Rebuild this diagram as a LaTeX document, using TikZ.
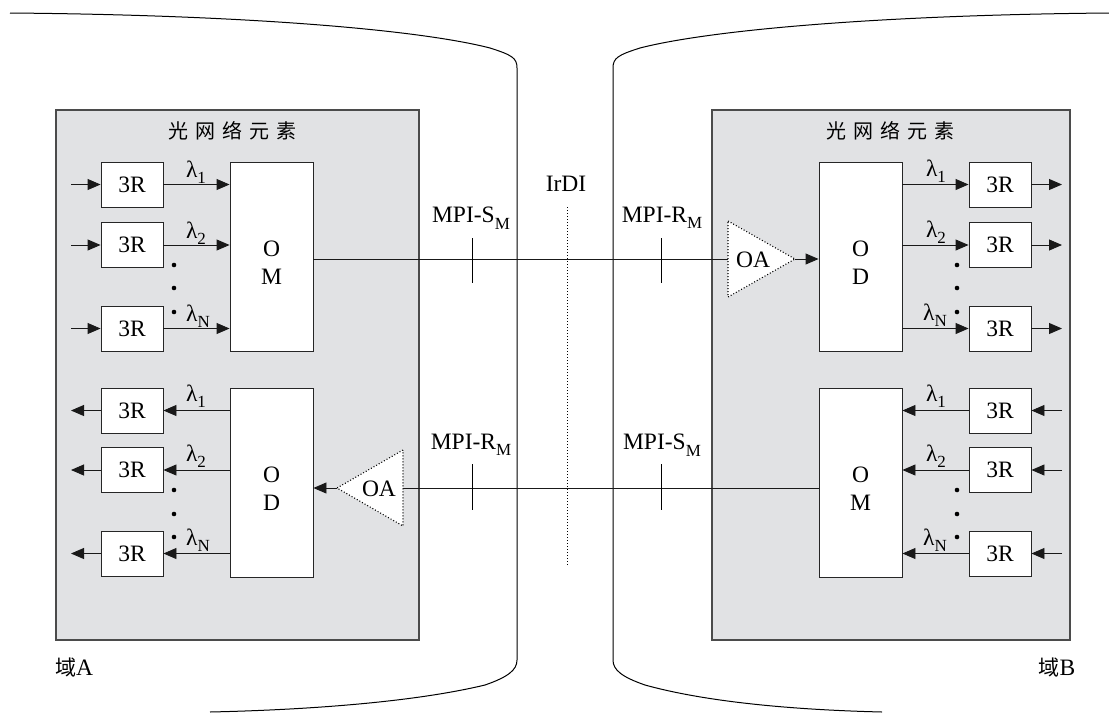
\documentclass[tikz,border=0pt]{standalone}
\usepackage{fontspec}
\setmainfont{Liberation Serif}
\newfontfamily\cjk{Noto Sans CJK SC}
\usetikzlibrary{arrows.meta}
\definecolor{negray}{RGB}{225,226,228}
\definecolor{nedge}{RGB}{75,75,75}
\newcommand\sbs[1]{\raisebox{-0.6ex}{\fontsize{17}{17}\selectfont #1}}
\newcommand\netitle{{\cjk\fontsize{20}{22}\selectfont 光\hspace{7pt}网\hspace{7pt}络\hspace{7pt}元\hspace{7pt}素}}
\begin{document}
\begin{tikzpicture}[x=1pt,y=-1pt,
  every node/.style={font=\fontsize{23.5}{28}\selectfont, inner sep=0pt},
  line/.style={line width=0.9pt, draw=black!90},
  arr/.style={line, -{Triangle[length=13pt,width=11pt]}},
  rbox/.style={draw=black!85, line width=0.9pt, fill=white, minimum width=62pt, minimum height=45pt},
  mbox/.style={draw=black!85, line width=0.9pt, fill=white, minimum width=83pt, minimum height=189pt},
  nebox/.style={draw=nedge, line width=1.2pt, fill=negray, minimum height=530pt},
  oa/.style={draw=black, line width=1.1pt, dash pattern=on 1pt off 2pt, fill=white},
  tick/.style={line width=0.9pt},
  dotline/.style={line width=0.9pt, dash pattern=on 1pt off 2pt}
]
\useasboundingbox (0,0) rectangle (1109,713);

% domain outlines
\draw[line width=1pt] (10,13) .. controls (250,15) and (420,30) .. (490,48)
  .. controls (512,55) and (517,58) .. (517,68) -- (517,660)
  .. controls (517,670) and (508,677) .. (485,685)
  .. controls (410,703) and (300,710) .. (210,712);
\draw[line width=1pt] (1109,13) .. controls (880,15) and (710,30) .. (640,48)
  .. controls (618,55) and (613,58) .. (613,68) -- (613,660)
  .. controls (613,670) and (622,677) .. (645,685)
  .. controls (710,703) and (800,710) .. (882,712);
\node (domA) at (74,668) {{\cjk\fontsize{21}{22}\selectfont 域}A};
\node (domB) at (1057,668) {{\cjk\fontsize{21}{22}\selectfont 域}B};

% network element boxes
\node[nebox, minimum width=363pt] (neL) at (237.5,375) {};
\node[nebox, minimum width=358pt] (neR) at (891,375) {};
\node (tL) at (232,131) {\netitle};
\node (tR) at (890,131) {\netitle};

% ---------- left upper (OM) ----------
\node[mbox] (omL) at (271.5,256.5) {};
\node[align=center] (omLt) at (271.5,263) {O\\M};
\foreach \i/\y in {1/184.5,2/245,3/328.5}{
  \node[rbox] (lu\i) at (132,\y) {3R};
  \coordinate (lui\i) at (71,\y);
  \draw[arr] (lui\i) -- (lu\i.west);
  \draw[arr] (lu\i.east) -- (lu\i.east -| omL.west);
}
\node (llu1) at (196,172) {λ\sbs{1}};
\node (llu2) at (196,233) {λ\sbs{2}};
\node (llu3) at (198,316) {λ\sbs{N}};
\foreach \y in {265,288,312}{\fill (174,\y) circle (2.3pt);}

% ---------- left lower (OD) ----------
\node[mbox] (odL) at (271.5,482.5) {};
\node[align=center] (odLt) at (271.5,489) {O\\D};
\foreach \i/\y in {1/410.5,2/470,3/553.5}{
  \node[rbox] (ll\i) at (132,\y) {3R};
  \coordinate (llo\i) at (71,\y);
  \draw[arr] (ll\i.west) -- (llo\i);
  \draw[arr] (ll\i.east -| odL.west) -- (ll\i.east);
}
\node (lll1) at (196,396) {λ\sbs{1}};
\node (lll2) at (196,456) {λ\sbs{2}};
\node (lll3) at (198,540) {λ\sbs{N}};
\foreach \y in {490,514,537}{\fill (174,\y) circle (2.3pt);}

% ---------- right upper (OD) ----------
\node[mbox] (odR) at (860.5,257) {};
\node[align=center] (odRt) at (860.5,263) {O\\D};
\foreach \i/\y in {1/184.5,2/245,3/328.5}{
  \node[rbox] (ru\i) at (1000,\y) {3R};
  \coordinate (ruo\i) at (1062,\y);
  \draw[arr] (ru\i.east) -- (ruo\i);
  \draw[arr] (ru\i.west -| odR.east) -- (ru\i.west);
}
\node (lru1) at (936,171) {λ\sbs{1}};
\node (lru2) at (936,232) {λ\sbs{2}};
\node (lru3) at (935,315) {λ\sbs{N}};
\foreach \y in {265,288,312}{\fill (957,\y) circle (2.3pt);}

% ---------- right lower (OM) ----------
\node[mbox] (omR) at (860.5,482.5) {};
\node[align=center] (omRt) at (860.5,489) {O\\M};
\foreach \i/\y in {1/410.5,2/470,3/553.5}{
  \node[rbox] (rl\i) at (1000,\y) {3R};
  \coordinate (rli\i) at (1062,\y);
  \draw[arr] (rli\i) -- (rl\i.east);
  \draw[arr] (rl\i.west) -- (rl\i.west -| omR.east);
}
\node (lrl1) at (936,396) {λ\sbs{1}};
\node (lrl2) at (936,456) {λ\sbs{2}};
\node (lrl3) at (935,540) {λ\sbs{N}};
\foreach \y in {490,514,537}{\fill (957,\y) circle (2.3pt);}

% ---------- optical amplifiers ----------
\coordinate (oaRu) at (728,221);
\coordinate (oaRd) at (728,297);
\coordinate (oaRa) at (795,259);
\coordinate (oaRm) at (728,259);
\draw[oa] (oaRu) -- (oaRa) -- (oaRd) -- cycle;
\node (oaRt) at (753,260) {OA};
\coordinate (oaLu) at (403,450);
\coordinate (oaLd) at (403,526);
\coordinate (oaLa) at (337,488);
\coordinate (oaLm) at (403,488);
\draw[oa] (oaLu) -- (oaLa) -- (oaLd) -- cycle;
\node (oaLt) at (379,489) {OA};

% ---------- inter-domain links ----------
\draw[line] (omL.east |- oaRm) -- (oaRm);
\draw[arr] (oaRa) -- (oaRa -| odR.west);
\draw[line] (oaLm) -- (oaLm -| omR.west);
\draw[arr] (oaLa) -- (oaLa -| odL.east);

% reference points
\draw[tick] (472,238) -- (472,283);
\draw[tick] (661,238) -- (661,283);
\draw[tick] (472,464) -- (472,510);
\draw[tick] (661,464) -- (661,510);
\node (mpiSL) at (471,218) {MPI-S\sbs{M}};
\node (mpiRR) at (662,218) {MPI-R\sbs{M}};
\node (mpiRL) at (471,445) {MPI-R\sbs{M}};
\node (mpiSR) at (662,445) {MPI-S\sbs{M}};

% IrDI
\draw[dotline] (567,207) -- (567,565);
\node (irdi) at (566,184) {IrDI};
\end{tikzpicture}
\end{document}
